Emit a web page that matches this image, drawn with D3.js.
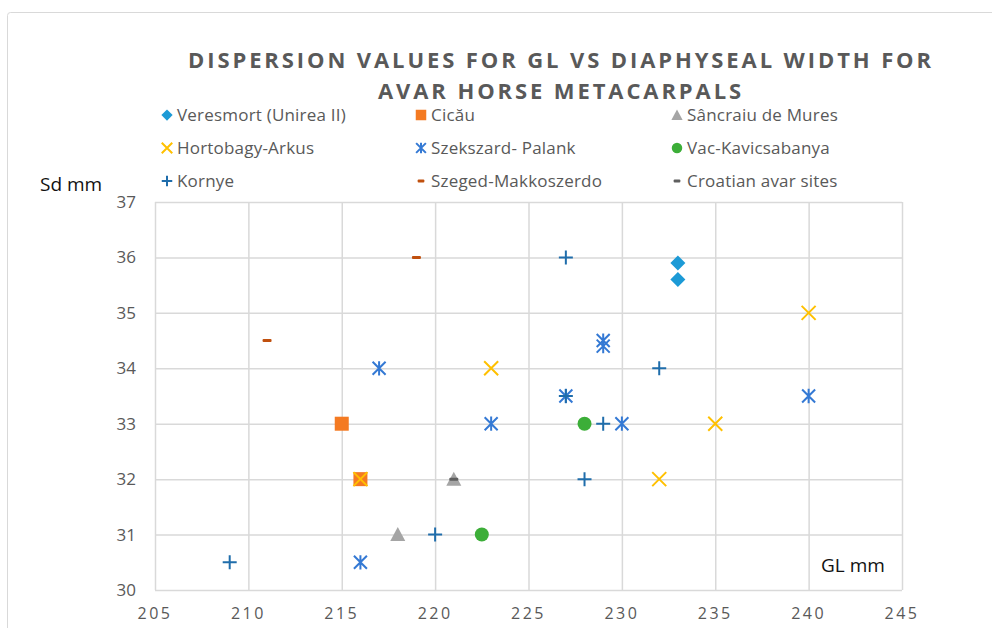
<!DOCTYPE html>
<html>
<head>
<meta charset="utf-8">
<script src="https://cdn.jsdelivr.net/npm/d3@7"></script>
<style>
  body { margin: 0; background: #fff; }
  text { font-family: "Open Sans", sans-serif; }
</style>
</head>
<body>
<div id="chart"></div>
<script>
// series data, [GL mm, Sd mm]
var veresmort = [[233, 35.9], [233, 35.6]];
var cicau = [[215, 33], [216, 32]];
var sancraiu = [[218, 31], [221, 32]];
var hortobagy = [[216, 32], [223, 34], [232, 32], [235, 33], [240, 35]];
var szekszard = [[217, 34], [223, 33], [216, 30.5], [227, 33.5], [229, 34.5], [229, 34.4], [230, 33], [240, 33.5]];
var vac = [[222.5, 31], [228, 33]];
var kornye = [[209, 30.5], [220, 31], [227, 36], [227, 33.5], [229, 33], [228, 32], [232, 34]];
var szeged = [[211, 34.5], [219, 36]];
var croatian = [[221, 32]];

var xTicks = [205, 210, 215, 220, 225, 230, 235, 240, 245];
var yTicks = [30, 31, 32, 33, 34, 35, 36, 37];

var series = [
  { name: 'Veresmort (Unirea II)', pts: veresmort, shape: 'diamond', color: '#1c9ad6' },
  { name: 'Cicău', pts: cicau, shape: 'square', color: '#f47a22' },
  { name: 'Sâncraiu de Mures', pts: sancraiu, shape: 'triangle', color: '#a5a5a5' },
  { name: 'Hortobagy-Arkus', pts: hortobagy, shape: 'x', color: '#ffc000' },
  { name: 'Szekszard- Palank', pts: szekszard, shape: 'asterisk', color: '#3479d4' },
  { name: 'Vac-Kavicsabanya', pts: vac, shape: 'circle', color: '#3cae38' },
  { name: 'Kornye', pts: kornye, shape: 'plus', color: '#1f6dab' },
  { name: 'Szeged-Makkoszerdo', pts: szeged, shape: 'dash', color: '#c0500e' },
  { name: 'Croatian avar sites', pts: croatian, shape: 'dash', color: '#5f5f5f' }
];

var width = 992, height = 628;
var plotLeft = 155, plotRight = 902, plotTop = 202, plotBottom = 590;

var svg = d3.select('#chart').append('svg')
  .attr('width', width)
  .attr('height', height);

// chart area border
svg.append('rect')
  .attr('x', 7.5).attr('y', 12.5)
  .attr('width', 1000).attr('height', 700)
  .attr('rx', 3)
  .attr('fill', 'none')
  .attr('stroke', '#d9d9d9');

var x = d3.scaleLinear().domain([205, 245]).range([plotLeft, plotRight]);
var y = d3.scaleLinear().domain([30, 37]).range([plotBottom, plotTop]);

// grid
svg.append('g')
  .attr('transform', 'translate(0,' + plotBottom + ')')
  .call(d3.axisBottom(x).tickValues(xTicks).tickSize(-(plotBottom - plotTop)).tickFormat(''))
  .call(function(g) {
    g.select('.domain').remove();
    g.selectAll('line').attr('stroke', '#d9d9d9').attr('stroke-width', 1.5);
  });
svg.append('g')
  .attr('transform', 'translate(' + plotLeft + ',0)')
  .call(d3.axisLeft(y).tickValues(yTicks).tickSize(-(plotRight - plotLeft)).tickFormat(''))
  .call(function(g) {
    g.select('.domain').remove();
    g.selectAll('line').attr('stroke', '#d9d9d9').attr('stroke-width', 1.5);
  });

// tick labels
svg.append('g').selectAll('text')
  .data(xTicks).enter().append('text')
  .attr('x', function(d) { return x(d); })
  .attr('y', plotBottom + 29)
  .attr('text-anchor', 'middle')
  .attr('fill', '#595959')
  .style('font-size', '16px')
  .style('letter-spacing', '2.5px')
  .text(function(d) { return d; });

svg.append('g').selectAll('text')
  .data(yTicks).enter().append('text')
  .attr('x', plotLeft - 19)
  .attr('y', function(d) { return y(d) + 6; })
  .attr('text-anchor', 'end')
  .attr('fill', '#595959')
  .style('font-size', '17px')
  .text(function(d) { return d; });

// axis titles
svg.append('text')
  .attr('x', 40).attr('y', 191)
  .style('font-size', '19px')
  .attr('fill', '#111')
  .text('Sd mm');
svg.append('text')
  .attr('x', 821).attr('y', 572)
  .style('font-size', '19px')
  .attr('fill', '#111')
  .text('GL mm');

// title
var title = svg.append('text')
  .attr('text-anchor', 'middle')
  .attr('fill', '#595959')
  .style('font-size', '22px')
  .style('font-weight', 'bold')
  .style('letter-spacing', '2.9px');
title.append('tspan').attr('x', 561).attr('y', 68).text('DISPERSION VALUES FOR GL VS DIAPHYSEAL WIDTH FOR');
title.append('tspan').attr('x', 561).attr('y', 99).text('AVAR HORSE METACARPALS');

// marker shapes
function marker(sel, shape, color, scale) {
  var s = scale || 1;
  if (shape === 'diamond') {
    sel.append('path').attr('d', 'M0,' + (-7.5 * s) + 'L' + (7.5 * s) + ',0L0,' + (7.5 * s) + 'L' + (-7.5 * s) + ',0Z').attr('fill', color);
  } else if (shape === 'square') {
    sel.append('rect').attr('x', -7 * s).attr('y', -7 * s).attr('width', 14 * s).attr('height', 14 * s).attr('fill', color);
  } else if (shape === 'triangle') {
    sel.append('path').attr('d', 'M0,' + (-7.5 * s) + 'L' + (7.5 * s) + ',' + (6.5 * s) + 'L' + (-7.5 * s) + ',' + (6.5 * s) + 'Z').attr('fill', color);
  } else if (shape === 'circle') {
    sel.append('circle').attr('r', 7 * s).attr('fill', color);
  } else if (shape === 'x') {
    var a = 7 * s;
    sel.append('path').attr('d', 'M' + (-a) + ',' + (-a) + 'L' + a + ',' + a + 'M' + a + ',' + (-a) + 'L' + (-a) + ',' + a)
      .attr('stroke', color).attr('stroke-width', 2).attr('fill', 'none');
  } else if (shape === 'asterisk') {
    var b = 6.5 * s;
    sel.append('path').attr('d', 'M' + (-b) + ',' + (-b) + 'L' + b + ',' + b + 'M' + b + ',' + (-b) + 'L' + (-b) + ',' + b + 'M0,' + (-b * 1.1) + 'L0,' + (b * 1.1))
      .attr('stroke', color).attr('stroke-width', 2).attr('fill', 'none');
  } else if (shape === 'plus') {
    var c = 7 * s;
    sel.append('path').attr('d', 'M' + (-c) + ',0L' + c + ',0M0,' + (-c) + 'L0,' + c)
      .attr('stroke', color).attr('stroke-width', 2).attr('fill', 'none');
  } else if (shape === 'dash') {
    sel.append('rect').attr('x', -4.5 * s).attr('y', -1.5).attr('width', 9 * s).attr('height', 3).attr('rx', 1).attr('fill', color);
  }
}

// points
series.forEach(function(sr) {
  svg.append('g').selectAll('g')
    .data(sr.pts).enter().append('g')
    .attr('transform', function(d) { return 'translate(' + x(d[0]) + ',' + y(d[1]) + ')'; })
    .each(function() { marker(d3.select(this), sr.shape, sr.color); });
});

// legend
var legendCols = [167, 421, 677];
var legendRows = [115, 148, 181];
var legend = svg.selectAll('.legend')
  .data(series).enter().append('g')
  .attr('class', 'legend')
  .attr('transform', function(d, i) {
    return 'translate(' + legendCols[i % 3] + ',' + legendRows[Math.floor(i / 3)] + ')';
  });
legend.each(function(d) { marker(d3.select(this), d.shape, d.color, 0.75); });
legend.append('text')
  .attr('x', 10)
  .attr('y', 6)
  .attr('fill', '#595959')
  .style('font-size', '17px')
  .style('letter-spacing', '0.2px')
  .text(function(d) { return d.name; });
</script>
</body>
</html>
